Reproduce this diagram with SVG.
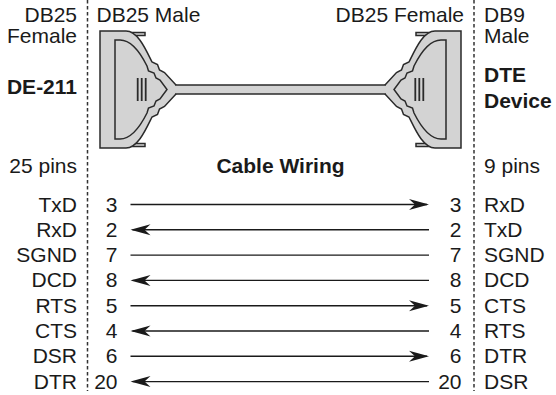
<svg xmlns="http://www.w3.org/2000/svg" width="556" height="395" viewBox="0 0 556 395">
<style>
text{font-family:"Liberation Sans",Arial,sans-serif;font-size:21px;fill:#1a1a1a}
.b{font-weight:bold}
.e{text-anchor:end}
.m{text-anchor:middle}
.dash{stroke:#333;stroke-width:1.5;stroke-dasharray:3.5 2.5;fill:none}
.shell{fill:#d3d3d3;stroke:#2a2a2a;stroke-width:1.5;stroke-linejoin:miter}
.inner{fill:none;stroke:#2a2a2a;stroke-width:1.5}
.pin{stroke:#2a2a2a;stroke-width:1.8}
.wire{stroke:#1a1a1a;stroke-width:1.4;fill:none}
</style>
<defs>
<marker id="ah" markerUnits="userSpaceOnUse" markerWidth="22" markerHeight="12" viewBox="0 -6 22 12" refX="18" refY="0" orient="auto">
<path d="M0,-5.5 L20,0 L0,5.5 L6,0 Z" fill="#1a1a1a"/>
</marker>
<g id="conn">
<rect x="125" y="32.5" width="20" height="3" class="shell"/>
<rect x="125" y="143.5" width="20" height="3" class="shell"/>
<path class="shell" d="M100,148 V31 H126 C138,31 146,50 152,62 L157.5,64.5 L159.5,70 L164.5,72.5 L176,85 L176,94 L164.5,106.5 L159.5,109 L157.5,114.5 L152,117 C146,129 138,148 126,148 Z"/>
<path class="inner" d="M115,139 V40 H120 C132,40 142,56 147,66 L148.5,71 L154,73 L156,78 L160,80 L167,89.5 L160,99 L156,101 L154,106 L148.5,108 L147,113 C142,123 132,139 120,139 Z"/>
<line class="pin" x1="137.7" y1="78" x2="137.7" y2="101"/>
<line class="pin" x1="141.7" y1="78" x2="141.7" y2="101"/>
<line class="pin" x1="145.7" y1="78" x2="145.7" y2="101"/>
</g>
</defs>

<g id="dividers">
<line class="dash" x1="87.5" y1="0" x2="87.5" y2="391"/>
<line class="dash" x1="474" y1="0" x2="474" y2="391"/>
</g>

<g id="cable">
<use href="#conn"/>
<use href="#conn" transform="translate(561,0) scale(-1,1)"/>
<rect x="175" y="85" width="211" height="9" fill="#d3d3d3"/>
<line x1="175" y1="85" x2="386" y2="85" stroke="#2a2a2a" stroke-width="1.5"/>
<line x1="175" y1="94" x2="386" y2="94" stroke="#2a2a2a" stroke-width="1.5"/>
</g>

<g id="headers">
<text class="e" x="77" y="22">DB25</text>
<text class="e" x="77" y="43">Female</text>
<text class="e b" x="77" y="94">DE-211</text>
<text class="e" x="77" y="173">25 pins</text>
<text x="96.5" y="22">DB25 Male</text>
<text class="e" x="464" y="22">DB25 Female</text>
<text x="484" y="22">DB9</text>
<text x="484" y="43">Male</text>
<text class="b" x="484" y="82">DTE</text>
<text class="b" x="484" y="108">Device</text>
<text x="484" y="173">9 pins</text>
<text class="m b" x="280.5" y="173">Cable Wiring</text>
</g>

<g id="left-signals">
<text class="e" x="77" y="211.5">TxD</text>
<text class="e" x="77" y="236.8">RxD</text>
<text class="e" x="77" y="262.1">SGND</text>
<text class="e" x="77" y="287.4">DCD</text>
<text class="e" x="77" y="312.7">RTS</text>
<text class="e" x="77" y="338">CTS</text>
<text class="e" x="77" y="363.3">DSR</text>
<text class="e" x="77" y="388.6">DTR</text>
</g>
<g id="left-pins">
<text class="e" x="117.5" y="211.5">3</text>
<text class="e" x="117.5" y="236.8">2</text>
<text class="e" x="117.5" y="262.1">7</text>
<text class="e" x="117.5" y="287.4">8</text>
<text class="e" x="117.5" y="312.7">5</text>
<text class="e" x="117.5" y="338">4</text>
<text class="e" x="117.5" y="363.3">6</text>
<text class="e" x="117.5" y="388.6">20</text>
</g>
<g id="right-pins">
<text class="e" x="461.5" y="211.5">3</text>
<text class="e" x="461.5" y="236.8">2</text>
<text class="e" x="461.5" y="262.1">7</text>
<text class="e" x="461.5" y="287.4">8</text>
<text class="e" x="461.5" y="312.7">5</text>
<text class="e" x="461.5" y="338">4</text>
<text class="e" x="461.5" y="363.3">6</text>
<text class="e" x="461.5" y="388.6">20</text>
</g>
<g id="right-signals">
<text x="484" y="211.5">RxD</text>
<text x="484" y="236.8">TxD</text>
<text x="484" y="262.1">SGND</text>
<text x="484" y="287.4">DCD</text>
<text x="484" y="312.7">CTS</text>
<text x="484" y="338">RTS</text>
<text x="484" y="363.3">DTR</text>
<text x="484" y="388.6">DSR</text>
</g>

<g id="connectors">
<line class="wire" x1="130.5" y1="204.5" x2="427" y2="204.5" marker-end="url(#ah)"/>
<line class="wire" x1="429" y1="229.8" x2="132.5" y2="229.8" marker-end="url(#ah)"/>
<line class="wire" x1="130.5" y1="255.1" x2="429" y2="255.1"/>
<line class="wire" x1="429" y1="280.4" x2="132.5" y2="280.4" marker-end="url(#ah)"/>
<line class="wire" x1="130.5" y1="305.7" x2="427" y2="305.7" marker-end="url(#ah)"/>
<line class="wire" x1="429" y1="331" x2="132.5" y2="331" marker-end="url(#ah)"/>
<line class="wire" x1="130.5" y1="356.3" x2="427" y2="356.3" marker-end="url(#ah)"/>
<line class="wire" x1="429" y1="381.6" x2="132.5" y2="381.6" marker-end="url(#ah)"/>
</g>
</svg>
